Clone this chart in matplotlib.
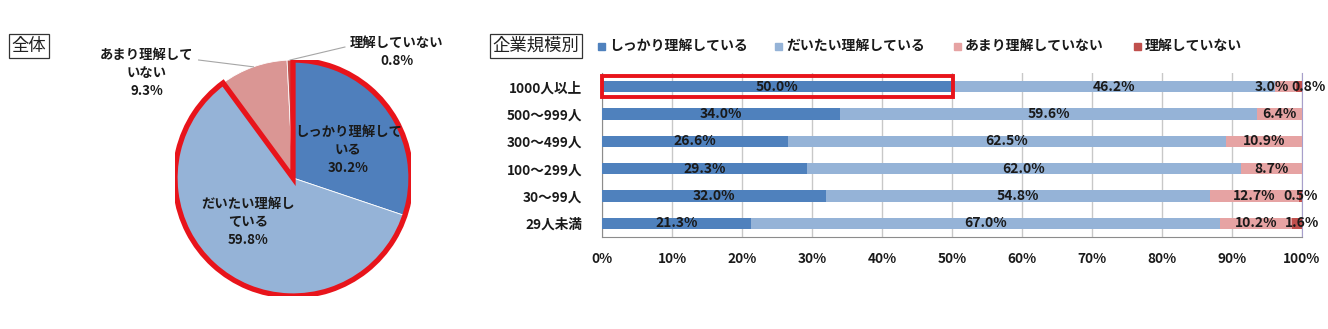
import matplotlib
matplotlib.use("Agg")
import matplotlib.pyplot as plt
from matplotlib.patches import Wedge, Rectangle
import numpy as np

plt.rcParams['font.family'] = ['Noto Sans CJK JP', 'DejaVu Sans']

# ---- data ----
series = ["しっかり理解している", "だいたい理解している", "あまり理解していない", "理解していない"]
pie_values = [30.2, 59.8, 9.3, 0.8]
pie_labels = ["しっかり理解して\nいる", "だいたい理解し\nている", "あまり理解して\nいない", "理解していない"]

sizes = ["1000人以上", "500～999人", "300～499人", "100～299人", "30～99人", "29人未満"]
firm_shikkari = [50.0, 34.0, 26.6, 29.3, 32.0, 21.3]
firm_daitai = [46.2, 59.6, 62.5, 62.0, 54.8, 67.0]
firm_amari = [3.0, 6.4, 10.9, 8.7, 12.7, 10.2]
firm_nai = [0.8, 0.0, 0.0, 0.0, 0.5, 1.6]
xticks = [0, 10, 20, 30, 40, 50, 60, 70, 80, 90, 100]

colors = ["#4F7FBC", "#95B3D7", "#DA9694", "#C0504D"]
bar_colors = ["#4F81BD", "#95B3D7", "#E6A3A3", "#C0504D"]
txt = "#1A1A1A"

W, H = 1328, 329
fig = plt.figure(figsize=(W / 100, H / 100), dpi=100)


def px_axes(x0, y0, x1, y1):
    return fig.add_axes([x0 / W, 1 - y1 / H, (x1 - x0) / W, (y1 - y0) / H])


# ---- pie ----
cx, cy, r = 293, 178, 118
axp = px_axes(cx - r, cy - r, cx + r, cy + r)
wedges, _ = axp.pie(pie_values, colors=colors, startangle=90, counterclock=False,
                    radius=1.0, wedgeprops=dict(edgecolor="white", linewidth=0.6))
axp.set_xlim(-1, 1)
axp.set_ylim(-1, 1)
axp.set_aspect("equal")
axp.axis("off")

# red outline around the two "understand" slices
t2 = wedges[0].theta2
t1 = wedges[1].theta1
axp.add_patch(Wedge((0, 0), 1.0, t1, t2 if t2 > t1 else t2 + 360, fill=False,
                    edgecolor="#E8141B", linewidth=3.8, joinstyle="miter", zorder=5))

lab_pos = [(0.47, 0.24), (-0.38, -0.37), (-1.24, 0.89), (0.88, 1.07)]
for i, (lab, v) in enumerate(zip(pie_labels, pie_values)):
    x, y = lab_pos[i]
    axp.text(x, y, f"{lab}\n{v:.1f}%", ha="center", va="center", fontsize=9.6,
             fontweight="bold", color=txt, linespacing=1.35, zorder=6)

# leader lines for the small slices
for i, start in ((2, (-0.80, 1.0)), (3, (0.44, 1.11))):
    w = wedges[i]
    mid = np.deg2rad((w.theta1 + w.theta2) / 2)
    axp.plot([start[0], np.cos(mid)], [start[1], np.sin(mid)], color="#A6A6A6",
             lw=0.8, clip_on=False, zorder=4)

fig.text(29 / W, 1 - 46 / H, "全体", ha="center", va="center", fontsize=12.5,
         color="#222222",
         bbox=dict(boxstyle="square,pad=0.15", fc="white", ec="#333333", lw=0.9))

# ---- stacked bars ----
axb = px_axes(602, 73, 1302, 237)
ypos = np.arange(len(sizes))
data = [firm_shikkari, firm_daitai, firm_amari, firm_nai]
left = np.zeros(len(sizes))
bh = 0.42
nudges = {(0, 2): -2.0, (0, 3): 1.4, (5, 3): 0.7}
for s, vals in enumerate(data):
    vals = np.array(vals)
    axb.barh(ypos, vals, left=left, height=bh, color=bar_colors[s], zorder=3, label=series[s])
    for j, v in enumerate(vals):
        if v <= 0:
            continue
        xc = left[j] + v / 2 + nudges.get((j, s), 0.0)
        axb.text(xc, ypos[j], f"{v:.1f}%", ha="center", va="center", fontsize=10,
                 fontweight="bold", color=txt, zorder=6, clip_on=False)
    left += vals

axb.set_xlim(0, 100)
axb.set_ylim(len(sizes) - 0.5, -0.5)
axb.set_xticks(xticks)
axb.set_xticklabels([f"{t}%" for t in xticks], fontsize=9.8, fontweight="bold", color=txt)
axb.set_yticks(ypos)
axb.set_yticklabels(sizes, fontsize=9.8, fontweight="bold", color=txt)
axb.tick_params(axis="both", length=0)
axb.tick_params(axis="x", pad=11)
axb.tick_params(axis="y", pad=14)
axb.grid(axis="x", color="#C8C8C8", lw=1.0, zorder=0)
axb.set_axisbelow(True)
axb.spines["top"].set_visible(False)
axb.spines["right"].set_color("#A79FCB")
axb.spines["left"].set_color("#8C8C8C")
axb.spines["bottom"].set_color("#8C8C8C")

# highlight box around the top first segment
axb.add_patch(Rectangle((0.0, -0.39), firm_shikkari[0] + 0.15, 0.77, fill=False,
                        edgecolor="#E8141B", linewidth=2.8, zorder=7, clip_on=False))

# ---- legend header ----
fig.text(536 / W, 1 - 46 / H, "企業規模別", ha="center", va="center", fontsize=12.5,
         color="#222222",
         bbox=dict(boxstyle="square,pad=0.15", fc="white", ec="#333333", lw=0.9))
leg_x = [598, 775, 954, 1134]
for xq, col, name in zip(leg_x, bar_colors, series):
    fig.patches.append(Rectangle((xq / W, 1 - 50 / H), 7 / W, 7 / H, transform=fig.transFigure,
                                 color=col, figure=fig))
    fig.text((xq + 11) / W, 1 - 46 / H, name, ha="left", va="center", fontsize=10,
             fontweight="bold", color=txt)

fig.savefig("out.png", dpi=100, facecolor="white")
